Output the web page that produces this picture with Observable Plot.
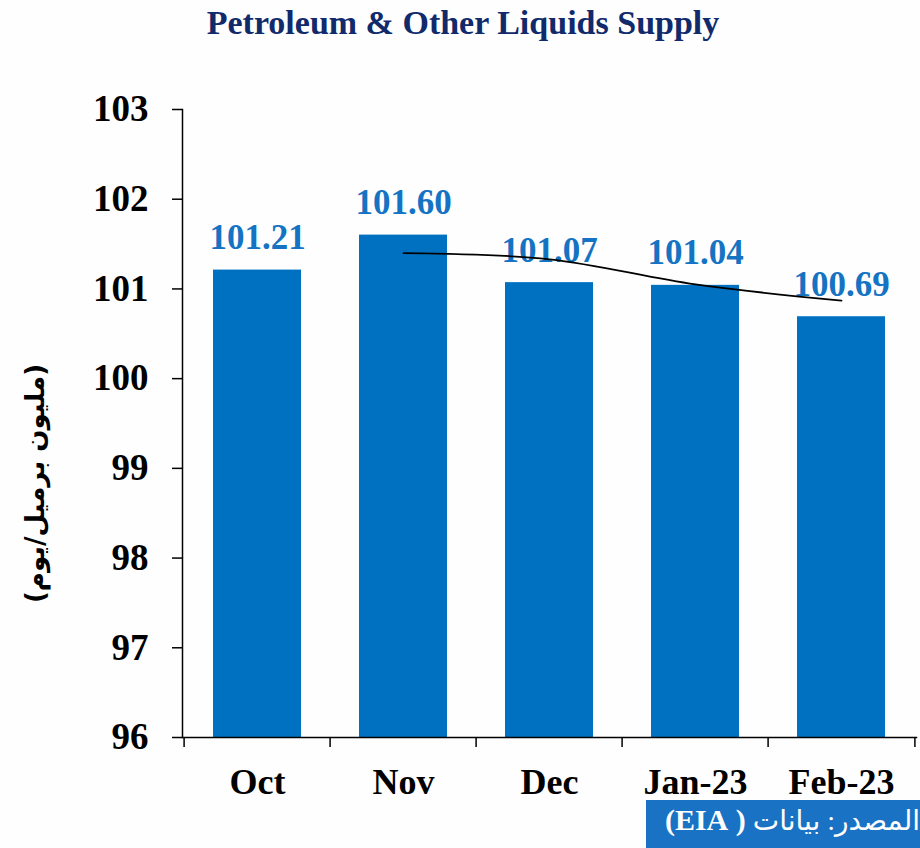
<!DOCTYPE html>
<html>
<head>
<meta charset="utf-8">
<script src="https://cdn.jsdelivr.net/npm/d3@7"></script>
<script src="https://cdn.jsdelivr.net/npm/@observablehq/plot@0.6"></script>
<style>
  html, body { margin: 0; padding: 0; background: #ffffff; }
  #wrap { position: relative; width: 920px; height: 848px; overflow: hidden; background: #fefefe; }
  #title { position: absolute; top: 6px; left: 463px; transform: translateX(-50%); white-space: nowrap;
    font-family: "Liberation Serif", serif; font-weight: bold; font-size: 34px; line-height: 1; color: #102a6b; }
  #chart { position: absolute; top: 48px; left: 0; }
  #source { position: absolute; top: 800px; left: 646px; width: 274px; height: 48px; background: #1a72c4;
    color: #ffffff; direction: rtl; text-align: right; font-family: "Liberation Serif", "DejaVu Sans", serif;
    font-size: 28px; line-height: 40px; white-space: nowrap; box-sizing: border-box; }
  #source b { font-family: "Liberation Serif", serif; font-size: 30px; }
</style>
</head>
<body>
<div id="wrap">
  <div id="title">Petroleum &amp; Other Liquids Supply</div>
  <div id="chart"></div>
  <div id="source">المصدر: بيانات <b>( EIA)</b></div>
</div>
<script>
// Data
const months = ["Oct", "Nov", "Dec", "Jan-23", "Feb-23"];
const supply = [101.21, 101.60, 101.07, 101.04, 100.69];
const labels = ["101.21", "101.60", "101.07", "101.04", "100.69"];
const trendMonths = ["Nov", "Dec", "Jan-23", "Feb-23"];
const trendValues = [101.40, 101.33, 101.05, 100.87];
const yTicks = [96, 97, 98, 99, 100, 101, 102, 103];
const yLabel = "(مليون برميل/يوم)";

const bars = months.map((m, i) => ({month: m, value: supply[i], label: labels[i]}));
const trend = trendMonths.map((m, i) => ({month: m, value: trendValues[i]}));

const W = 920, H = 800, ML = 182, MR = 4, MT = 61, MB = 111;
const step = (W - ML - MR) / months.length;
const yMin = yTicks[0], yMax = yTicks[yTicks.length - 1];

const chart = Plot.plot({
  width: W,
  height: H,
  marginTop: MT,
  marginBottom: MB,
  marginLeft: ML,
  marginRight: MR,
  style: {fontFamily: "Liberation Serif, serif", background: "transparent", color: "#000", overflow: "visible"},
  x: {domain: months, paddingInner: 0.394, paddingOuter: 0.197},
  y: {domain: [yMin, yMax]},
  marks: [
    Plot.barY(bars, {x: "month", y1: () => yMin, y2: "value", fill: "#0070c0"}),
    Plot.axisY({ticks: yTicks, tickFormat: "d", tickSize: 10, tickPadding: 24, fontSize: 37, fontWeight: "bold",
      stroke: "#000", strokeWidth: 1.5, label: null, fill: "#000"}),
    Plot.text([yLabel], {frameAnchor: "left", dx: -147, dy: 60, rotate: -90, textAnchor: "middle",
      fontSize: 26, fontWeight: "bold", fontFamily: "DejaVu Sans, sans-serif", fill: "#000"}),
    Plot.axisX({tickSize: 0, tickPadding: 31, fontSize: 36, fontWeight: "bold", label: null, fill: "#000"}),
    Plot.frame({anchor: "left", stroke: "#000", strokeWidth: 1.5}),
    Plot.frame({anchor: "bottom", stroke: "#000", strokeWidth: 1.5}),
    Plot.ruleX(months, {x: d => d, dx: -step / 2, y1: () => yMin, y2: () => yMin, insetBottom: -10, stroke: "#000", strokeWidth: 1.5}),
    Plot.ruleX(months.slice(-1), {x: d => d, dx: step / 2, y1: () => yMin, y2: () => yMin, insetBottom: -10, stroke: "#000", strokeWidth: 1.5}),
    Plot.text(bars, {x: "month", y: "value", text: "label", dy: -21, lineAnchor: "bottom",
      fontSize: 35, fontWeight: "bold", fill: "#1573c3"}),
    Plot.line(trend, {x: "month", y: "value", curve: "catmull-rom", stroke: "#000", strokeWidth: 1.8})
  ]
});
document.getElementById("chart").appendChild(chart);
</script>
</body>
</html>
